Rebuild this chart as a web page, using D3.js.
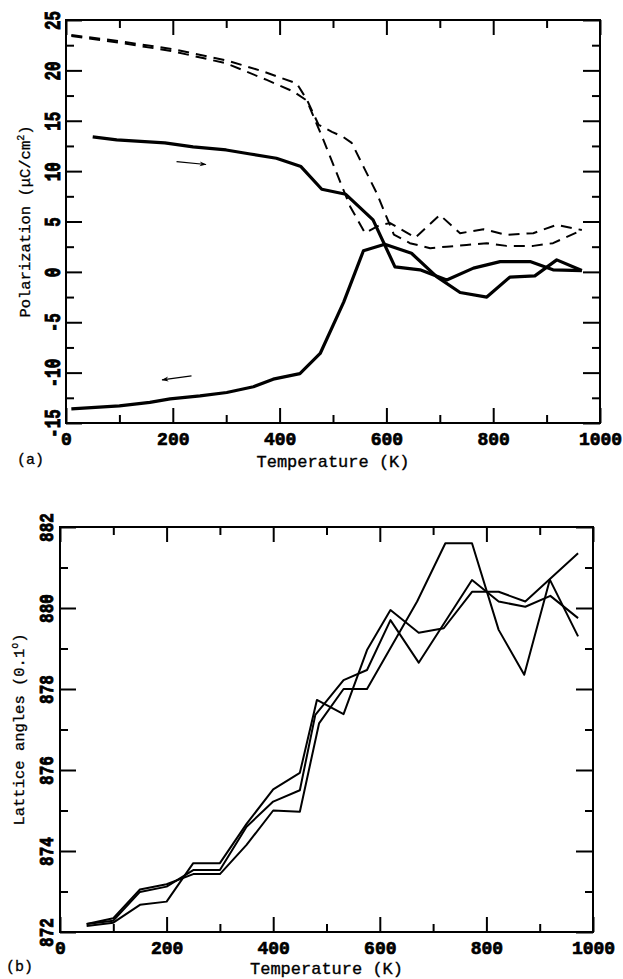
<!DOCTYPE html>
<html>
<head>
<meta charset="utf-8">
<script src="https://cdn.jsdelivr.net/npm/d3@7"></script>
<style>
  body { margin: 0; background: #fff; }
  text { font-family: "Liberation Mono", "DejaVu Sans Mono", monospace; fill: #000; }
</style>
</head>
<body>
<svg id="chart" width="623" height="979"></svg>
<script>
// (a) polarization vs temperature, [K, uC/cm2]
const heatSolid = [[50,13.4],[95,13.1],[185,12.8],[238,12.4],[300,12.1],[345,11.7],[394,11.28],[440,10.45],[479,8.2],[524,7.7],[575,5.16],[616,0.5],[663,0.2],[713,-0.8],[763,0.37],[813,1.02],[869,1.02],[912,0.2],[966,0.13]]
const coolSolid = [[10,-13.6],[100,-13.3],[157,-12.96],[195,-12.6],[251,-12.3],[301,-11.97],[351,-11.4],[388,-10.65],[438,-10.1],[476,-8.1],[520,-3.0],[557,2.1],[597,2.75],[647,1.85],[694,-0.47],[738,-2.05],[788,-2.5],[831,-0.53],[878,-0.4],[919,1.19],[966,0.13]]
const dashOuter = [[10,23.5],[100,22.9],[200,22.1],[300,21.0],[369,19.9],[432,18.7],[451,17.1],[473,14.6],[498,13.9],[519,13.4],[535,12.8],[557,10.45],[582,7.8],[596,6.0],[614,3.7],[644,2.85],[682,2.35],[713,2.5],[750,2.67],[788,2.85],[825,2.58],[875,2.58],[912,2.85],[966,4.15]]
const dashInner = [[10,23.4],[100,22.75],[200,21.9],[300,20.7],[376,19.05],[426,17.9],[451,17.0],[482,13.1],[507,9.8],[532,6.5],[560,3.84],[588,4.67],[607,4.84],[654,3.4],[700,5.65],[738,3.84],[782,4.23],[825,3.67],[875,3.84],[919,4.67],[966,4.15]]

// (b) lattice angles vs temperature, [K, 0.1 deg]
const angleA = [[50,872.15],[100,872.23],[150,872.67],[200,872.75],[250,873.7],[300,873.7],[350,874.67],[400,875.52],[450,875.93],[482,877.73],[532,877.38],[576,878.96],[620,879.95],[673,879.39],[720,879.5],[773,880.4],[823,880.4],[873,880.16],[972,881.35]]
const angleB = [[50,872.2],[100,872.28],[150,872.99],[200,873.12],[250,873.53],[300,873.53],[350,874.6],[400,875.22],[450,875.5],[479,877.36],[532,878.22],[576,878.47],[620,879.7],[673,878.65],[773,880.69],[823,880.16],[873,880.03],[920,880.3],[972,879.75]]
const angleC = [[50,872.2],[100,872.34],[150,873.05],[200,873.18],[250,873.43],[300,873.43],[350,874.15],[400,875.0],[450,874.97],[486,877.15],[532,878.0],[576,878.0],[670,880.16],[723,881.6],[773,881.6],[823,879.46],[871,878.35],[919,880.7],[972,879.3]]

// ticks
const xMajor = [0, 200, 400, 600, 800, 1000]
const xMinor = [100, 300, 500, 700, 900]
const polMajor = [-15, -10, -5, 0, 5, 10, 15, 20, 25]
const polMinor = [-12.5, -7.5, -2.5, 2.5, 7.5, 12.5, 17.5, 22.5]
const angMajor = [872, 874, 876, 878, 880, 882]
const angMinor = [873, 875, 877, 879, 881]

// arrows marking heating / cooling branches
const heatArrow = [[207, 10.94], [262, 10.66]]
const coolArrow = [[235, -10.32], [180, -10.72]]

const svg = d3.select('#chart')

svg.append('defs').append('marker')
    .attr('id', 'head')
    .attr('viewBox', '0 0 10 10')
    .attr('refX', 9).attr('refY', 5)
    .attr('markerWidth', 9).attr('markerHeight', 7)
    .attr('markerUnits', 'userSpaceOnUse')
    .attr('orient', 'auto')
    .append('path')
    .attr('d', 'M0,1.5 L10,5 L0,8.5 L3,5 Z')
    .attr('fill', '#000')

const fmt = d => String(d)

// heavy "typewriter" look for tick numbers
const boldNum = sel => sel
    .attr('font-family', 'Liberation Mono').attr('font-weight', 'bold')
    .attr('stroke', '#000').attr('stroke-width', 0.7)

function panel(box, yDomain, yMajor, yMinor, ySpec) {
    const x = d3.scaleLinear().domain([0, 1000]).range([box.left, box.right])
    const y = d3.scaleLinear().domain(yDomain).range([box.bottom, box.top])
    const g = svg.append('g')

    const tickStyle = sel => {
        sel.select('.domain').remove()
        sel.selectAll('line').attr('stroke', '#000').attr('stroke-width', 2)
    }

    // bottom axis with labels
    g.append('g').attr('transform', `translate(0,${box.bottom})`)
        .call(d3.axisBottom(x).tickValues(xMajor).tickSize(-15).tickSizeOuter(0)
            .tickPadding(9).tickFormat(fmt))
        .call(tickStyle)
        .call(a => a.selectAll('text').call(boldNum).attr('font-size', 18))
    g.append('g').attr('transform', `translate(0,${box.bottom})`)
        .call(d3.axisBottom(x).tickValues(xMinor).tickSize(-8).tickSizeOuter(0).tickFormat(''))
        .call(tickStyle)
    // top axis
    g.append('g').attr('transform', `translate(0,${box.top})`)
        .call(d3.axisTop(x).tickValues(xMajor).tickSize(-15).tickSizeOuter(0).tickFormat(''))
        .call(tickStyle)
    g.append('g').attr('transform', `translate(0,${box.top})`)
        .call(d3.axisTop(x).tickValues(xMinor).tickSize(-8).tickSizeOuter(0).tickFormat(''))
        .call(tickStyle)
    // left axis, rotated labels
    g.append('g').attr('transform', `translate(${box.left},0)`)
        .call(d3.axisLeft(y).tickValues(yMajor).tickSize(-16).tickSizeOuter(0).tickFormat(fmt))
        .call(tickStyle)
        .call(a => a.selectAll('text')
            .attr('x', null).attr('dy', null)
            .attr('text-anchor', 'middle')
            .call(boldNum)
            .attr('font-size', 16)
            .attr('transform', `translate(${ySpec.labelOff},0) rotate(-90) scale(1,${ySpec.stretch})`))
    g.append('g').attr('transform', `translate(${box.left},0)`)
        .call(d3.axisLeft(y).tickValues(yMinor).tickSize(-8).tickSizeOuter(0).tickFormat(''))
        .call(tickStyle)
    // right axis
    g.append('g').attr('transform', `translate(${box.right},0)`)
        .call(d3.axisRight(y).tickValues(yMajor).tickSize(-17).tickSizeOuter(0).tickFormat(''))
        .call(tickStyle)
    g.append('g').attr('transform', `translate(${box.right},0)`)
        .call(d3.axisRight(y).tickValues(yMinor).tickSize(-8).tickSizeOuter(0).tickFormat(''))
        .call(tickStyle)

    g.append('rect')
        .attr('x', box.left).attr('y', box.top)
        .attr('width', box.right - box.left).attr('height', box.bottom - box.top)
        .attr('fill', 'none').attr('stroke', '#000').attr('stroke-width', 2)

    // x title
    g.append('text')
        .attr('x', (box.left + box.right) / 2).attr('y', box.bottom + ySpec.xTitleOff)
        .attr('text-anchor', 'middle').attr('font-size', 17)
        .attr('stroke', '#000').attr('stroke-width', 0.35)
        .text('Temperature (K)')

    // y title with superscript
    const yt = g.append('text')
        .attr('text-anchor', 'middle').attr('font-size', 15.5)
        .attr('stroke', '#000').attr('stroke-width', 0.3)
        .attr('transform', `translate(${ySpec.titleX},${(box.top + box.bottom) / 2}) rotate(-90)`)
    yt.append('tspan').text(ySpec.title[0])
    yt.append('tspan').attr('font-size', 10).attr('dy', -6).text(ySpec.title[1])
    yt.append('tspan').attr('dy', 6).text(ySpec.title[2])

    g.append('text')
        .attr('x', ySpec.tag[0]).attr('y', ySpec.tag[1])
        .attr('font-size', 15)
        .attr('stroke', '#000').attr('stroke-width', 0.3)
        .text(ySpec.tag[2])

    const line = d3.line().x(d => x(d[0])).y(d => y(d[1]))
    return { g, x, y, line }
}

// (a)
const a = panel({ left: 66, right: 600, top: 20, bottom: 423 }, [-15, 25], polMajor, polMinor,
    { labelOff: -6, stretch: 1.35, xTitleOff: 44, titleX: 30,
      title: ['Polarization (\u03bcC/cm', '2', ')'], tag: [17, 464, '(a)'] })

a.g.selectAll('path.dash')
    .data([dashOuter, dashInner])
    .join('path')
    .attr('class', 'dash')
    .attr('d', a.line)
    .attr('fill', 'none').attr('stroke', '#000')
    .attr('stroke-width', 2).attr('stroke-dasharray', '11,7')
    .attr('stroke-linejoin', 'round')

a.g.selectAll('path.solid')
    .data([heatSolid, coolSolid])
    .join('path')
    .attr('class', 'solid')
    .attr('d', a.line)
    .attr('fill', 'none').attr('stroke', '#000')
    .attr('stroke-width', 3.2).attr('stroke-linejoin', 'round')

a.g.selectAll('line.arrow')
    .data([heatArrow, coolArrow])
    .join('line')
    .attr('class', 'arrow')
    .attr('x1', d => a.x(d[0][0])).attr('y1', d => a.y(d[0][1]))
    .attr('x2', d => a.x(d[1][0])).attr('y2', d => a.y(d[1][1]))
    .attr('stroke', '#000').attr('stroke-width', 1.2)
    .attr('marker-end', 'url(#head)')

// (b)
const b = panel({ left: 60, right: 593, top: 527, bottom: 932 }, [872, 882], angMajor, angMinor,
    { labelOff: -7, stretch: 1.3, xTitleOff: 42, titleX: 24,
      title: ['Lattice angles (0.1', 'o', ')'], tag: [6, 971, '(b)'] })

b.g.selectAll('path.angle')
    .data([angleA, angleB, angleC])
    .join('path')
    .attr('class', 'angle')
    .attr('d', b.line)
    .attr('fill', 'none').attr('stroke', '#000')
    .attr('stroke-width', 2).attr('stroke-linejoin', 'round')
</script>
</body>
</html>
